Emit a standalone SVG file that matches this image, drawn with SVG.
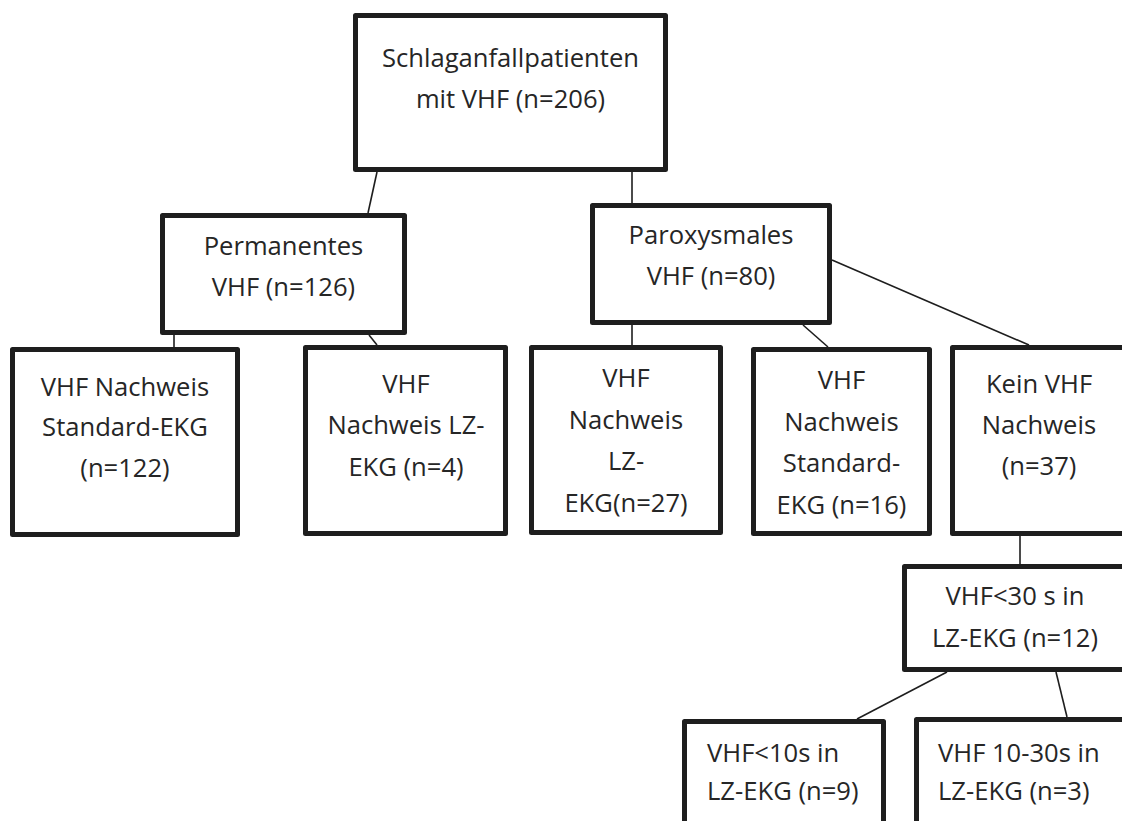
<svg xmlns="http://www.w3.org/2000/svg" width="1122" height="821" viewBox="0 0 1122 821">
<style>
.box{fill:#ffffff;stroke:#1e1e1e;stroke-width:5;stroke-linejoin:round}
.ln{stroke:#1e1e1e;stroke-width:1.6;fill:none}
text{font-family:"Open Sans","Liberation Sans",Arial,sans-serif;font-size:25.6px;fill:#262626}
.c{text-anchor:middle}
</style>
<rect width="1122" height="821" fill="#ffffff"/>
<g id="connectors">
<line class="ln" x1="377" y1="172" x2="368" y2="213"/>
<line class="ln" x1="632" y1="172" x2="632" y2="203"/>
<line class="ln" x1="174" y1="335" x2="174" y2="347"/>
<line class="ln" x1="369" y1="335" x2="377" y2="345"/>
<line class="ln" x1="632" y1="325" x2="632" y2="345"/>
<line class="ln" x1="803" y1="325" x2="828" y2="347"/>
<line class="ln" x1="832" y1="260" x2="1029" y2="345"/>
<line class="ln" x1="1020" y1="536" x2="1020" y2="564"/>
<line class="ln" x1="947" y1="672" x2="857" y2="719"/>
<line class="ln" x1="1056" y1="672" x2="1067" y2="717"/>
</g>
<g id="root">
<rect class="box" x="355.5" y="15.5" width="310" height="154"/>
<text class="c" x="510.5" y="67">Schlaganfallpatienten</text>
<text class="c" x="510.5" y="107.5">mit VHF (n=206)</text>
</g>
<g id="permanent">
<rect class="box" x="162.5" y="215.5" width="242" height="117"/>
<text class="c" x="283.5" y="255">Permanentes</text>
<text class="c" x="283.5" y="296">VHF (n=126)</text>
</g>
<g id="paroxysmal">
<rect class="box" x="592.5" y="205.5" width="237" height="117"/>
<text class="c" x="711" y="244">Paroxysmales</text>
<text class="c" x="711" y="285">VHF (n=80)</text>
</g>
<g id="perm-standard">
<rect class="box" x="12.5" y="349.5" width="225" height="185"/>
<text class="c" x="125" y="395.5">VHF Nachweis</text>
<text class="c" x="125" y="436">Standard-EKG</text>
<text class="c" x="125" y="476.5">(n=122)</text>
</g>
<g id="perm-lz">
<rect class="box" x="305.5" y="347.5" width="200" height="186"/>
<text class="c" x="406" y="393">VHF</text>
<text class="c" x="406" y="434">Nachweis LZ-</text>
<text class="c" x="406" y="476">EKG (n=4)</text>
</g>
<g id="parox-lz">
<rect class="box" x="531.5" y="347.5" width="189" height="185"/>
<text class="c" x="626" y="387">VHF</text>
<text class="c" x="626" y="428.5">Nachweis</text>
<text class="c" x="626" y="470">LZ-</text>
<text class="c" x="626" y="511.5">EKG(n=27)</text>
</g>
<g id="parox-standard">
<rect class="box" x="753.5" y="349.5" width="176" height="184"/>
<text class="c" x="841.5" y="389">VHF</text>
<text class="c" x="841.5" y="430.5">Nachweis</text>
<text class="c" x="841.5" y="472">Standard-</text>
<text class="c" x="841.5" y="513.5">EKG (n=16)</text>
</g>
<g id="kein">
<rect class="box" x="952.5" y="347.5" width="176" height="186"/>
<text class="c" x="1039" y="392.5">Kein VHF</text>
<text class="c" x="1039" y="433.5">Nachweis</text>
<text class="c" x="1039" y="475">(n=37)</text>
</g>
<g id="lt30">
<rect class="box" x="904.5" y="566.5" width="224" height="103"/>
<text class="c" x="1015" y="605">VHF&lt;30 s in</text>
<text class="c" x="1015" y="646.5">LZ-EKG (n=12)</text>
</g>
<g id="lt10">
<rect class="box" x="684.5" y="721.5" width="199" height="120"/>
<text x="707" y="762">VHF&lt;10s in</text>
<text x="707" y="800">LZ-EKG (n=9)</text>
</g>
<g id="s10-30">
<rect class="box" x="916.5" y="719.5" width="220" height="120"/>
<text x="938" y="762">VHF 10-30s in</text>
<text x="938" y="800">LZ-EKG (n=3)</text>
</g>
</svg>
